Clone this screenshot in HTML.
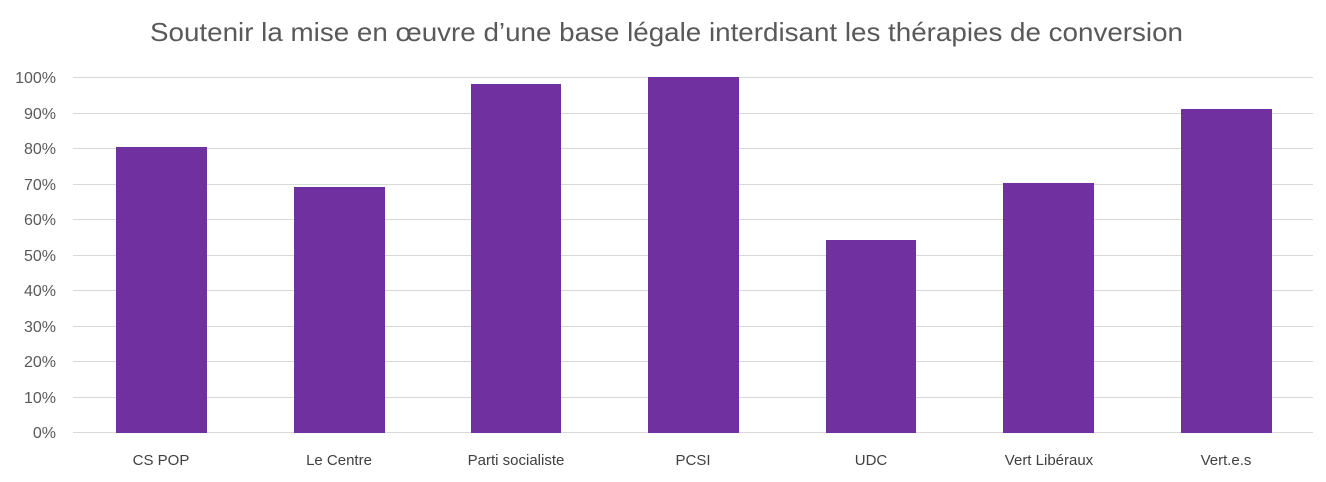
<!DOCTYPE html>
<html><head><meta charset="utf-8"><style>
body{margin:0;background:#fff;width:1326px;height:477px;overflow:hidden;font-family:"Liberation Sans",sans-serif;}
</style></head><body>
<svg width="1326" height="477" xmlns="http://www.w3.org/2000/svg" font-family="Liberation Sans, sans-serif">
<text x="150" y="41" font-size="26" fill="#595959" textLength="1033" lengthAdjust="spacingAndGlyphs">Soutenir la mise en œuvre d’une base légale interdisant les thérapies de conversion</text>
<g stroke="#d9d9d9" stroke-width="1">
<line x1="73" x2="1313" y1="77.5" y2="77.5"/>
<line x1="73" x2="1313" y1="113.5" y2="113.5"/>
<line x1="73" x2="1313" y1="148.5" y2="148.5"/>
<line x1="73" x2="1313" y1="184.5" y2="184.5"/>
<line x1="73" x2="1313" y1="219.5" y2="219.5"/>
<line x1="73" x2="1313" y1="255.5" y2="255.5"/>
<line x1="73" x2="1313" y1="290.5" y2="290.5"/>
<line x1="73" x2="1313" y1="326.5" y2="326.5"/>
<line x1="73" x2="1313" y1="361.5" y2="361.5"/>
<line x1="73" x2="1313" y1="397.5" y2="397.5"/>
<line x1="73" x2="1313" y1="432.5" y2="432.5"/>
</g>
<g font-size="16" fill="#595959" text-anchor="end">
<text x="56" y="83">100%</text><text x="56" y="119">90%</text><text x="56" y="154">80%</text>
<text x="56" y="190">70%</text><text x="56" y="225">60%</text><text x="56" y="261">50%</text>
<text x="56" y="296">40%</text><text x="56" y="332">30%</text><text x="56" y="367">20%</text>
<text x="56" y="403">10%</text><text x="56" y="438">0%</text>
</g>
<g fill="#7030A0">
<rect x="116" y="147" width="91" height="286"/>
<rect x="294" y="187" width="91" height="246"/>
<rect x="471" y="84" width="90" height="349"/>
<rect x="648" y="77" width="91" height="356"/>
<rect x="826" y="240" width="90" height="193"/>
<rect x="1003" y="183" width="91" height="250"/>
<rect x="1181" y="109" width="91" height="324"/>
</g>
<g font-size="15" fill="#404040" text-anchor="middle">
<text x="161" y="465">CS POP</text>
<text x="339" y="465">Le Centre</text>
<text x="516" y="465">Parti socialiste</text>
<text x="693" y="465">PCSI</text>
<text x="871" y="465">UDC</text>
<text x="1049" y="465">Vert Libéraux</text>
<text x="1226" y="465">Vert.e.s</text>
</g>
</svg>
</body></html>
